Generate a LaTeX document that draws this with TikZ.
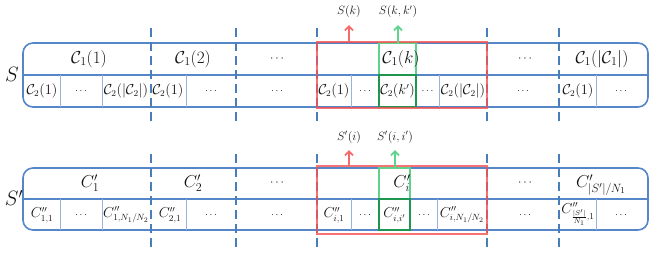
\documentclass[tikz,border=0pt]{standalone}
\usetikzlibrary{arrows.meta}
\definecolor{boxblue}{RGB}{84,134,200}
\definecolor{thinblue}{RGB}{150,180,222}
\definecolor{dashblue}{RGB}{74,126,187}
\definecolor{redc}{RGB}{245,80,80}
\definecolor{greenl}{RGB}{95,210,140}
\definecolor{greend}{RGB}{30,150,80}
\definecolor{txt}{RGB}{20,20,20}
\newcommand{\bigdots}{{\fontsize{12}{14}\selectfont$\cdots$}}
\newcommand{\smalldots}{{\fontsize{10}{12}\selectfont$\cdots$}}
\begin{document}
\begin{tikzpicture}[x=1pt,y=-1pt,
  outer/.style={draw=boxblue,line width=1.6pt},
  thinsep/.style={draw=thinblue,line width=0.9pt},
  dashsep/.style={draw=dashblue,line width=2.2pt,dash pattern=on 9pt off 5pt},
  redbox/.style={draw=redc,draw opacity=0.8,line width=2pt,inner sep=0pt,outer sep=0pt},
  greenbox/.style={draw=greenl,line width=1.6pt,inner sep=0pt,outer sep=0pt},
  greendark/.style={draw=greend,line width=1.6pt,inner sep=0pt,outer sep=0pt},
  big/.style={font=\fontsize{18}{20}\selectfont,text=txt,inner sep=0pt},
  small/.style={font=\fontsize{13.5}{15}\selectfont,text=txt,inner sep=0pt},
  arrlab/.style={font=\fontsize{12}{14}\selectfont,text=txt,inner sep=1pt},
  setlab/.style={font=\fontsize{22}{24}\selectfont,text=txt,inner sep=0pt},
  redarr/.style={draw=redc!85,line width=1.8pt,-{Straight Barb[length=4pt,width=8pt]}},
  greenarr/.style={draw=greenl,line width=1.8pt,-{Straight Barb[length=4pt,width=8pt]}}]
\useasboundingbox (0,0) rectangle (654,254);

% ---------- top structure S ----------
\draw[outer,rounded corners=10pt] (23,43) rectangle (648,107);
\draw[outer] (23,75) -- (648,75);
\foreach \x in {60,102,186,351,439,596} \draw[thinsep] (\x,75) -- (\x,107);
\foreach \x in {151,236,317,487,559} \draw[dashsep] (\x,28) -- (\x,125);

\node[greenbox,minimum width=37pt,minimum height=64pt] (gk) at (397.5,75) {};
\node[greendark,minimum width=37pt,minimum height=32pt] (gk2) at (397.5,91) {};
\node[redbox,minimum width=170pt,minimum height=66pt] (rk) at (402,75) {};

\node[setlab] (S) at (12,74) {$S$};

\node[big] (t1) at (89,59) {$\mathcal{C}_1(1)$};
\node[big] (t2) at (193,59) {$\mathcal{C}_1(2)$};
\node[big] (t3) at (277,59) {\bigdots};
\node[big] (t4) at (401,59) {$\mathcal{C}_1(k)$};
\node[big] (t5) at (525,59) {\bigdots};
\node[big] (t6) at (602,59) {$\mathcal{C}_1(|\mathcal{C}_1|)$};

\node[small] (b1) at (42,91) {$\mathcal{C}_2(1)$};
\node[small] (b2) at (81,91) {\smalldots};
\node[small] (b3) at (126,91) {$\mathcal{C}_2(|\mathcal{C}_2|)$};
\node[small] (b4) at (168,91) {$\mathcal{C}_2(1)$};
\node[small] (b5) at (211,91) {\smalldots};
\node[small] (b6) at (277,91) {\smalldots};
\node[small] (b7) at (334,91) {$\mathcal{C}_2(1)$};
\node[small] (b8) at (365,91) {\smalldots};
\node[small] (b9) at (397.5,91) {$\mathcal{C}_2(k')$};
\node[small] (b10) at (427.5,91) {\smalldots};
\node[small] (b11) at (463,91) {$\mathcal{C}_2(|\mathcal{C}_2|)$};
\node[small] (b12) at (523,91) {\smalldots};
\node[small] (b13) at (578,91) {$\mathcal{C}_2(1)$};
\node[small] (b14) at (621,91) {\smalldots};

\node[arrlab] (Sk) at (349,12) {$S(k)$};
\node[arrlab] (Skk) at (398,12) {$S(k,k')$};
\draw[redarr] (rk.north -| Sk.south) -- ([yshift=-6pt]Sk.south);
\draw[greenarr] (gk.north -| Skk.south) -- ([yshift=-6pt]Skk.south);

% ---------- bottom structure S' ----------
\draw[outer,rounded corners=10pt] (23,168) rectangle (648,230);
\draw[outer] (23,199) -- (648,199);
\foreach \x in {60,102,186,351,437,596} \draw[thinsep] (\x,199) -- (\x,230);
\foreach \x in {151,236,317,487,559} \draw[dashsep] (\x,154) -- (\x,251);

\node[greenbox,minimum width=31pt,minimum height=62pt] (gi) at (394.5,199) {};
\node[greendark,minimum width=31pt,minimum height=31pt] (gi2) at (394.5,214.5) {};
\node[redbox,minimum width=170pt,minimum height=68pt] (ri) at (402,200) {};

\node[setlab] (Sp) at (14,198) {$S'$};

\node[big] (u1) at (90,183) {$C'_1$};
\node[big] (u2) at (193,183) {$C'_2$};
\node[big] (u3) at (277,183) {\bigdots};
\node[big] (u4) at (402,183) {$C'_i$};
\node[big] (u5) at (525,183) {\bigdots};
\node[big] (u6) at (601,185) {$C'_{|S'|/N_1}$};

\node[small] (c1) at (42,215) {$C''_{1,1}$};
\node[small] (c2) at (81,215) {\smalldots};
\node[small] (c3) at (126,215) {$C''_{1,N_1/N_2}$};
\node[small] (c4) at (170,215) {$C''_{2,1}$};
\node[small] (c5) at (211,215) {\smalldots};
\node[small] (c6) at (277,215) {\smalldots};
\node[small] (c7) at (334,215) {$C''_{i,1}$};
\node[small] (c8) at (365,215) {\smalldots};
\node[small] (c9) at (394.5,215) {$C''_{i,i'}$};
\node[small] (c10) at (424,215) {\smalldots};
\node[small] (c11) at (462,215) {$C''_{i,N_1/N_2}$};
\node[small] (c12) at (525,215) {\smalldots};
\node[small] (c13) at (578,214) {$C''_{\frac{|S'|}{N_1},1}$};
\node[small] (c14) at (621,215) {\smalldots};

\node[arrlab] (Si) at (349,137) {$S'(i)$};
\node[arrlab] (Sii) at (395,137) {$S'(i,i')$};
\draw[redarr] (ri.north -| Si.south) -- ([yshift=-6pt]Si.south);
\draw[greenarr] (gi.north -| Sii.south) -- ([yshift=-6pt]Sii.south);
\end{tikzpicture}
\end{document}
